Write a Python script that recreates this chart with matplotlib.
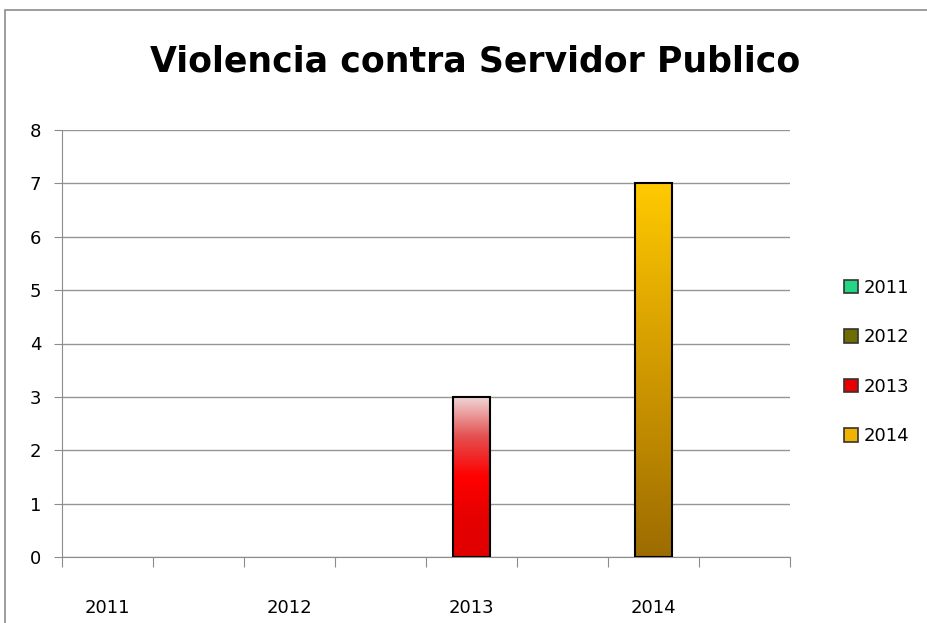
import numpy as np
import matplotlib
matplotlib.use("Agg")
import matplotlib.pyplot as plt
from matplotlib.patches import Rectangle, Patch
from matplotlib.colors import LinearSegmentedColormap

years = ["2011", "2012", "2013", "2014"]
values = [0, 0, 3, 7]
slots = [0, 2, 4, 6]
legend_colors = ["#22d684", "#6e6e00", "#e80000", "#f0b400"]
grad_colors = {
    "2013": ["#e00000", "#e60000", "#ff0000", "#e45050", "#f0d8d8"],
    "2014": ["#9c6c00", "#c08a00", "#e0a800", "#ffca00"],
}

plt.rcParams['font.family'] = ['DejaVu Sans']

fig = plt.figure(figsize=(9.28, 6.23), dpi=100)
ax = fig.add_axes([62 / 928, 1 - 557 / 623, (790 - 62) / 928, (557 - 130) / 623])

# marco exterior del grafico
fig.patches.append(Rectangle((5 / 928, -0.1), 1.2, 1 - 10 / 623 + 0.1, transform=fig.transFigure,
                             fill=False, edgecolor="#8c8c8c", linewidth=1.2))

fig.text(475 / 928, 1 - 62 / 623, "Violencia contra Servidor Publico",
         ha="center", va="center", fontsize=25, fontweight="bold")

width = 0.4
for year, v, s in zip(years, values, slots):
    if v <= 0:
        continue
    x0 = s + 0.5 - width / 2
    cmap = LinearSegmentedColormap.from_list(year, grad_colors[year])
    grad = np.linspace(0, 1, 256).reshape(-1, 1)
    ax.imshow(grad, cmap=cmap, origin="lower", aspect="auto",
              extent=[x0, x0 + width, 0, v], zorder=3)
    ax.add_patch(Rectangle((x0, 0), width, v, fill=False, edgecolor="black",
                           linewidth=1.5, zorder=4))

ax.set_xlim(0, 8)
ax.set_ylim(0, 8)
ax.set_yticks(range(0, 9))
ax.yaxis.grid(True, color="#969696", linewidth=1)
ax.set_axisbelow(True)
ax.set_xticks(range(0, 9))
ax.set_xticklabels([])
ax.set_xticks([s + 0.5 for s in slots], minor=True)
ax.set_xticklabels(years, minor=True)
ax.tick_params(axis="x", which="minor", length=0, pad=30, labelsize=13)
ax.tick_params(axis="x", which="major", length=7, color="#8c8c8c", direction="out")
ax.tick_params(axis="y", length=6, color="#8c8c8c", labelsize=13, pad=9)
for side in ["top", "right"]:
    ax.spines[side].set_visible(False)
ax.spines["left"].set_color("#8c8c8c")
ax.spines["bottom"].set_color("#8c8c8c")

handles = [Patch(facecolor=c, edgecolor="#333333", linewidth=1.2) for c in legend_colors]
fig.legend(handles, years, loc="center left", bbox_to_anchor=(828 / 928, 1 - 362 / 623),
           frameon=False, fontsize=13, handlelength=0.75, handleheight=0.75,
           handletextpad=0.35, labelspacing=1.75)

fig.savefig("out.png", dpi=100)
